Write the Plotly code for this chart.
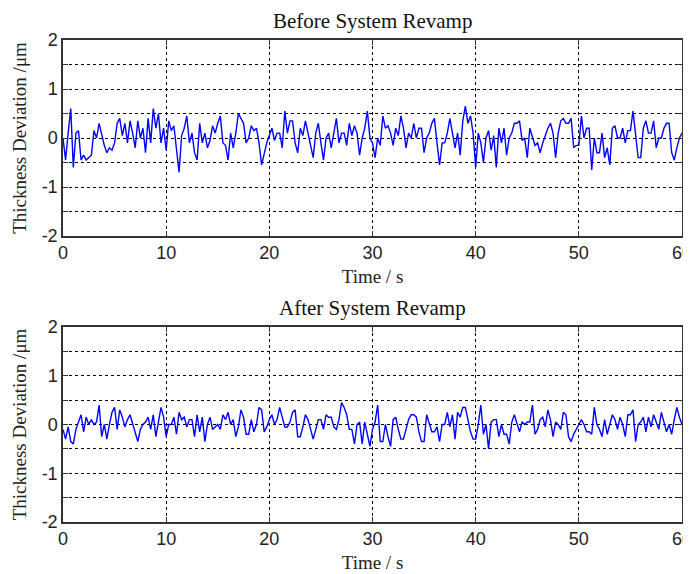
import plotly.graph_objects as go

SAMPLE_INTERVAL = 0.25  # s

before_values = [
    0.0, -0.45, 0.1, 0.6,
    -0.6, 0.1, 0.15, -0.45,
    -0.35, -0.45, -0.4, -0.35,
    0.15, 0.0, 0.3, 0.05,
    -0.15, -0.3, -0.2, -0.25,
    -0.1, 0.3, 0.4, 0.05,
    0.3, -0.1, 0.35, 0.1,
    -0.2, 0.35, 0.0, 0.2,
    -0.3, 0.4, -0.1, 0.6,
    0.2, 0.5, -0.1, 0.2,
    -0.25, 0.35, 0.15, 0.25,
    -0.3, -0.7, 0.05, 0.2,
    0.45, -0.1, 0.1, -0.3,
    -0.45, 0.3, -0.1, 0.1,
    -0.2, -0.05, 0.25, 0.1,
    0.3, 0.45, -0.1, -0.15,
    -0.45, 0.1, -0.2, 0.1,
    0.5, 0.4, 0.3, -0.1,
    0.0, 0.25, 0.15, 0.2,
    -0.1, -0.55, -0.3, -0.1,
    0.05, 0.2, -0.05, 0.1,
    0.1, -0.2, 0.55, 0.1,
    0.35, 0.35, -0.1, -0.3,
    0.2, 0.05, 0.35, 0.1,
    -0.1, -0.4, 0.1, 0.3,
    -0.1, -0.45, 0.0, 0.1,
    -0.2, 0.15, 0.4, -0.1,
    0.1, 0.1, -0.15, 0.3,
    0.05, 0.25, 0.1, -0.35,
    0.0, 0.2, 0.55, 0.0,
    -0.1, -0.4, 0.0, -0.15,
    0.45, 0.2, 0.25, 0.1,
    -0.15, 0.2, 0.05, 0.45,
    0.2, -0.2, 0.1, 0.0,
    0.3, 0.0, 0.2, 0.2,
    -0.3, 0.0, 0.1, 0.3,
    0.4, -0.1, -0.55, -0.1,
    -0.1, 0.1, 0.4, 0.1,
    -0.2, 0.1, -0.35, 0.35,
    0.65, 0.3, 0.45, 0.1,
    -0.6, 0.1, -0.1, -0.5,
    0.0, 0.15, -0.25, 0.05,
    -0.6, 0.2, -0.1, 0.2,
    -0.35, 0.0, 0.1, 0.3,
    0.3, 0.35, -0.05, 0.0,
    -0.4, 0.2, 0.0, -0.15,
    -0.1, -0.3, -0.1, 0.05,
    0.2, 0.3, 0.1, -0.4,
    0.1, 0.35, 0.4, 0.3,
    0.3, 0.4, -0.2, -0.15,
    -0.15, 0.45, 0.0, 0.2,
    0.2, -0.65, 0.0, -0.3,
    -0.3, 0.1, -0.4, -0.2,
    -0.55, 0.2, 0.25, 0.0,
    0.0, 0.2, -0.1, 0.15,
    0.15, 0.55, 0.0, -0.4,
    -0.4, 0.2, 0.35, 0.1,
    0.1, 0.35, -0.2, 0.0,
    0.0, 0.2, 0.3, 0.3,
    -0.3, -0.45, -0.2, 0.0,
    0.1,
]

after_values = [
    -0.1, -0.3, -0.05, -0.35,
    -0.4, -0.1, 0.05, 0.2,
    -0.15, 0.15, 0.0, 0.1,
    0.0, 0.05, 0.4, -0.25,
    0.0, -0.3, 0.0, 0.25,
    0.35, -0.1, 0.3, 0.15,
    -0.05, 0.1, 0.2, 0.0,
    -0.2, -0.35, -0.1, 0.0,
    0.05, 0.15, -0.1, 0.2,
    -0.25, 0.05, 0.35, 0.15,
    -0.25, 0.0, 0.0, 0.15,
    -0.2, 0.25, 0.1, 0.15,
    -0.05, 0.1, 0.1, -0.25,
    0.2, -0.15, 0.15, -0.35,
    0.0, 0.15, -0.1, -0.05,
    0.0, -0.1, 0.2, 0.1,
    0.25, 0.0, 0.1, -0.25,
    -0.05, 0.3, 0.15, -0.2,
    -0.2, 0.1, -0.15, 0.0,
    0.35, 0.3, -0.15, -0.05,
    0.1, 0.2, 0.0, 0.1,
    0.35, 0.15, -0.05, -0.05,
    0.05, 0.25, 0.3, -0.25,
    -0.25, -0.05, 0.2, 0.1,
    -0.1, -0.3, -0.1, 0.1,
    0.1, -0.1, 0.2, 0.15,
    0.15, -0.05, -0.1, 0.1,
    0.45, 0.35, 0.2, -0.1,
    -0.1, -0.4, 0.0, 0.05,
    -0.4, 0.05, -0.2, -0.45,
    -0.1, 0.05, 0.4, -0.35,
    -0.35, 0.0, -0.25, -0.45,
    0.1, 0.15, -0.1, -0.3,
    -0.3, -0.1, 0.1, 0.2,
    0.2, 0.15, -0.15, -0.35,
    -0.35, 0.2, 0.0, -0.15,
    -0.15, -0.05, -0.35, 0.0,
    0.0, 0.25, -0.05, 0.2,
    -0.3, 0.25, 0.15, 0.35,
    0.35, 0.1, -0.15, -0.3,
    -0.3, 0.0, 0.4, -0.2,
    0.0, -0.5, 0.05, 0.1,
    0.1, -0.25, 0.0, -0.2,
    -0.2, -0.4, 0.05, 0.2,
    0.0, -0.15, 0.05, 0.0,
    0.05, 0.05, 0.4, -0.2,
    -0.1, 0.1, 0.15, -0.05,
    0.3, 0.1, -0.25, 0.05,
    0.0, -0.1, 0.25, 0.2,
    -0.25, -0.35, -0.2, -0.1,
    0.0, 0.1, 0.0, -0.15,
    -0.15, -0.2, 0.35, 0.0,
    -0.1, -0.25, 0.1, -0.2,
    0.0, 0.2, 0.1, -0.1,
    0.15, 0.0, -0.25, 0.2,
    0.2, 0.3, -0.35, 0.0,
    0.05, 0.15, -0.15, 0.15,
    -0.05, 0.2, 0.05, -0.1,
    0.25, 0.05, -0.15, 0.0,
    -0.2, 0.1, 0.35, 0.15,
    0.0,
]

x_ticks = [0, 10, 20, 30, 40, 50, 60]
y_grid = [-2, -1.5, -1, -0.5, 0, 0.5, 1, 1.5, 2]
y_tick_text = ["-2", "", "-1", "", "0", "", "1", "", "2"]

titles = ["Before System Revamp", "After System Revamp"]
x_title = "Time / s"
y_title = "Thickness Deviation /\u03bcm"

# page body adds an 8px margin, so the figure is sized/placed accordingly
W, H = 683, 566
L, R = 55, 9
panels_px = [(32, 228), (319, 514)]  # top, bottom of each plot area (figure px)

t_before = [i * SAMPLE_INTERVAL for i in range(len(before_values))]
t_after = [i * SAMPLE_INTERVAL for i in range(len(after_values))]

fig = go.Figure()
fig.add_trace(go.Scatter(x=t_before, y=before_values, mode="lines",
                         line=dict(color="#0000ff", width=1.4), xaxis="x", yaxis="y",
                         showlegend=False))
fig.add_trace(go.Scatter(x=t_after, y=after_values, mode="lines",
                         line=dict(color="#0000ff", width=1.4), xaxis="x2", yaxis="y2",
                         showlegend=False))

serif = "Liberation Serif, Times New Roman, serif"
sans = "Liberation Sans, Arial, sans-serif"

def xaxis_cfg(anchor):
    return dict(
        anchor=anchor, domain=[0, 1], range=[0, 60],
        tickvals=x_ticks, ticks="inside", ticklen=5, tickcolor="#333",
        ticklabeloverflow="allow",
        showgrid=True, gridcolor="black", griddash="3px,3px", gridwidth=1,
        showline=True, linecolor="#333", linewidth=1.5, mirror="ticks",
        zeroline=False, tickfont=dict(family=sans, size=18, color="#222"),
        title=dict(text=x_title, font=dict(family=serif, size=19, color="#222"), standoff=7),
    )

def yaxis_cfg(anchor, dom):
    return dict(
        anchor=anchor, domain=dom, range=[-2, 2],
        tickvals=y_grid, ticktext=y_tick_text, ticks="inside", ticklen=5, tickcolor="#333",
        showgrid=True, gridcolor="black", griddash="3px,3px", gridwidth=1,
        showline=True, linecolor="#333", linewidth=1.5, mirror="ticks",
        zeroline=False, tickfont=dict(family=sans, size=18, color="#222"),
        title=dict(text=y_title, font=dict(family=serif, size=19, color="#222"), standoff=10),
    )

doms = []
for top, bot in panels_px:
    doms.append([(H - bot) / H, (H - top) / H])

annotations = []
for (top, bot), txt in zip(panels_px, titles):
    annotations.append(dict(
        text=txt, xref="paper", yref="paper", x=0.5, y=(H - top) / H,
        yshift=5, xanchor="center", yanchor="bottom", showarrow=False,
        font=dict(family=serif, size=21, color="#111")))

fig.update_layout(
    width=W, height=H,
    margin=dict(l=L, r=R, t=0, b=0, autoexpand=False),
    paper_bgcolor="white", plot_bgcolor="white",
    xaxis=xaxis_cfg("y"), yaxis=yaxis_cfg("x", doms[0]),
    xaxis2=xaxis_cfg("y2"), yaxis2=yaxis_cfg("x2", doms[1]),
    annotations=annotations,
)

fig.write_html("out.html")
